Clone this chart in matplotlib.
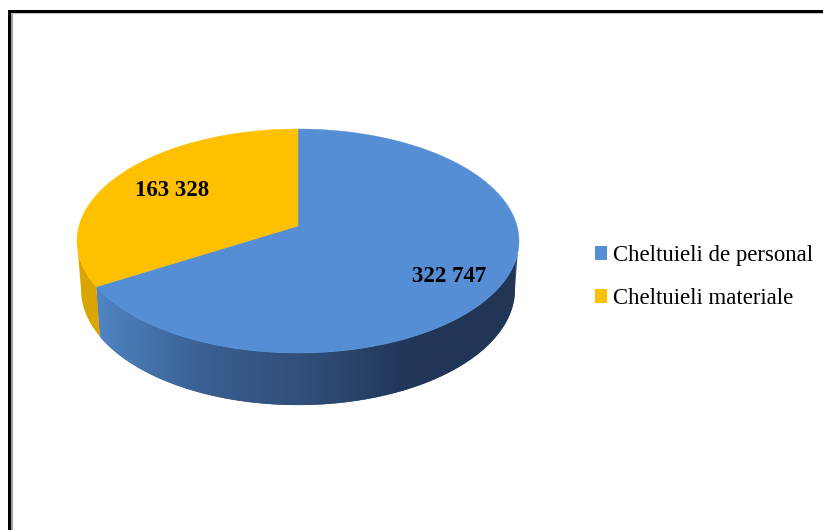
import numpy as np
import matplotlib
matplotlib.use('Agg')
import matplotlib.pyplot as plt
from matplotlib.colors import LinearSegmentedColormap
from matplotlib.patches import Patch

categories = ['Cheltuieli de personal', 'Cheltuieli materiale']
values = [322747, 163328]
value_labels = ['322 747', '163 328']
top_colors = ['#558ED5', '#FFC000']
side_yellow = '#DBA500'
side_blue = ['#5084C4', '#3A6093', '#304E79', '#213658', '#213655']

# perspective of the pie in pixels
cx = 298
k = 0.134
top = dict(a=219, b=110, y0=226)
bottom = dict(a=215, b=113.5, y0=274)


def project(t, plane):
    w = 1 + k * np.sin(t)
    return cx + plane['a'] * np.cos(t) / w, plane['y0'] - plane['b'] * np.sin(t) / w


def side_poly(t1, t2, t3, t4):
    x1, y1 = project(np.linspace(t1, t2, 200), top)
    x2, y2 = project(np.linspace(t3, t4, 200), bottom)
    return np.r_[x1, x2[::-1]], np.r_[y1, y2[::-1]]


fig = plt.figure(figsize=(8.23, 5.3), dpi=100)
ax = fig.add_axes([0, 0, 1, 1])
ax.set_xlim(0, 823)
ax.set_ylim(530, 0)
ax.axis('off')

# slice edges, clockwise from 12 o'clock
fractions = np.array(values) / np.sum(values)
split = np.pi / 2 - 2 * np.pi * fractions[0]

# side walls
xs, ys = side_poly(split, -0.24, split, -0.134)
blue_side, = ax.fill(xs, ys, color=side_blue[2], lw=0)
cmap = LinearSegmentedColormap.from_list('side', side_blue)
im = ax.imshow(np.linspace(0, 1, 256)[None, :], cmap=cmap, extent=(97, 515, 420, 240), aspect='auto', zorder=2)
im.set_clip_path(blue_side)
ax.set_xlim(0, 823)
ax.set_ylim(530, 0)

xs, ys = side_poly(split, -np.pi + 0.134, split, -np.pi + 0.134)
ax.fill(xs, ys, color=side_yellow, lw=0, zorder=2)

# top face
for i, (start, end) in enumerate([(np.pi / 2, split), (split, -3 * np.pi / 2)]):
    xs, ys = project(np.linspace(start, end, 400), top)
    ax.fill(np.r_[cx, xs], np.r_[top['y0'], ys], color=top_colors[i], lw=0.3, ec=top_colors[i], zorder=3)

ax.text(449, 277, value_labels[0], family='Liberation Serif', weight='bold', fontsize=16.5,
        ha='center', va='center', zorder=4)
ax.text(172, 191, value_labels[1], family='Liberation Serif', weight='bold', fontsize=16.5,
        ha='center', va='center', zorder=4)

handles = [Patch(color=c, lw=0) for c in top_colors]
ax.legend(handles, categories, loc='center left', bbox_to_anchor=(595, 277), bbox_transform=ax.transData,
          frameon=False, prop={'family': 'Liberation Serif', 'size': 16.35}, handlelength=0.53, handleheight=0.53,
          handletextpad=0.27, labelspacing=0.98, borderpad=0, borderaxespad=0)

# picture frame
ax.axvspan(11, 13, ymin=0, ymax=1 - 13 / 530, color='#A0A0A0', lw=0, zorder=5)
ax.axhspan(13, 14, xmin=11 / 823, xmax=1, color='#C0C0C0', lw=0, zorder=5)
ax.axvspan(8, 11, ymin=0, ymax=1 - 10 / 530, color='black', lw=0, zorder=6)
ax.axhspan(10, 13, xmin=8 / 823, xmax=1, color='black', lw=0, zorder=6)

fig.savefig('out.png', dpi=100)
